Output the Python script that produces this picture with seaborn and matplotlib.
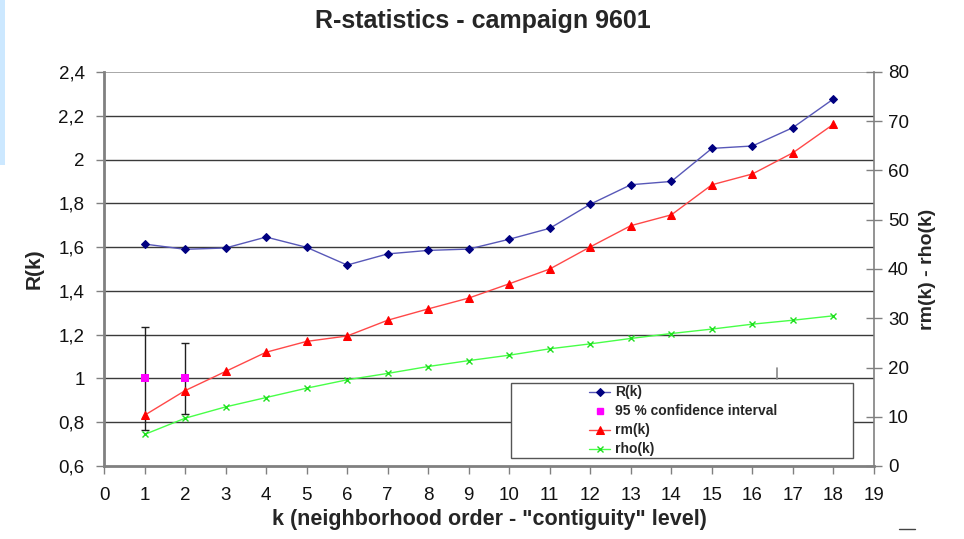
import numpy as np
import pandas as pd
import matplotlib
matplotlib.use("Agg")
import matplotlib.pyplot as plt
import seaborn as sns
from matplotlib.patches import Rectangle
from matplotlib.lines import Line2D
from matplotlib.ticker import FuncFormatter, MultipleLocator

# ---- data ----
k = list(range(1, 19))
R_k = [1.614, 1.590, 1.596, 1.646, 1.599, 1.518, 1.569, 1.585, 1.591,
       1.636, 1.686, 1.796, 1.885, 1.900, 2.051, 2.062, 2.146, 2.277]
rm_k = [10.3, 15.3, 19.2, 23.1, 25.3, 26.4, 29.6, 31.9, 34.1,
        37.0, 40.0, 44.5, 48.8, 51.0, 57.1, 59.3, 63.6, 69.4]
rho_k = [6.4, 9.7, 12.0, 13.9, 15.8, 17.5, 18.8, 20.2, 21.4,
         22.5, 23.8, 24.8, 25.9, 26.9, 27.8, 28.8, 29.6, 30.5]
ci_k = [1, 2]
ci_center = [1.0, 1.0]
ci_low = [0.764, 0.836]
ci_high = [1.234, 1.163]

title = "R-statistics - campaign 9601"
xlabel = 'k (neighborhood order - "contiguity" level)'
ylabel_left = "R(k)"
ylabel_right = "rm(k) - rho(k)"
legend_labels = ["R(k)", "95 % confidence interval", "rm(k)", "rho(k)"]

sns.set_theme(style="white")
plt.rcParams["font.family"] = ["Liberation Sans", "DejaVu Sans"]

W, H = 964, 539
fig = plt.figure(figsize=(W / 100, H / 100), dpi=100)
ax = fig.add_axes([104 / W, 1 - 466 / H, 770 / W, 394 / H])
ax2 = ax.twinx()

df = pd.DataFrame({"k": k, "R": R_k, "rm": rm_k, "rho": rho_k})

# left axis series
sns.lineplot(data=df, x="k", y="R", ax=ax, color="#5858b8", lw=1.0,
             marker="D", markersize=4.5, markerfacecolor="#000080",
             markeredgecolor="#000080", errorbar=None, legend=False)
h_R = ax.get_lines()[-1]

ax.errorbar(ci_k, ci_center,
            yerr=[np.array(ci_center) - np.array(ci_low),
                  np.array(ci_high) - np.array(ci_center)],
            fmt="none", ecolor="#202020", elinewidth=1.0, capsize=2.8, capthick=1.0, zorder=3)
sns.scatterplot(x=ci_k, y=ci_center, ax=ax, marker="s", s=28, color="#ff00ff",
                edgecolor="#ff00ff", linewidth=0, zorder=4, legend=False)
h_ci = Line2D([], [], ls="none", marker="s", markersize=5, color="#ff00ff")

# right axis series
sns.lineplot(data=df, x="k", y="rm", ax=ax2, color="#ff4848", lw=1.0,
             marker="^", markersize=6, markerfacecolor="#ff0000",
             markeredgecolor="#ff0000", errorbar=None, legend=False)
h_rm = ax2.get_lines()[-1]
sns.lineplot(data=df, x="k", y="rho", ax=ax2, color="#48ff48", lw=1.0,
             marker="x", markersize=4, markeredgecolor="#20e020", markeredgewidth=1.0,
             errorbar=None, legend=False)
h_rho = ax2.get_lines()[-1]

# axes limits / ticks
ax.set_xlim(0, 19)
ax.set_ylim(0.6, 2.4)
ax2.set_ylim(0, 80)
ax.xaxis.set_major_locator(MultipleLocator(1))
ax.yaxis.set_major_locator(MultipleLocator(0.2))
ax2.yaxis.set_major_locator(MultipleLocator(10))
ax.yaxis.set_major_formatter(FuncFormatter(lambda v, p: f"{round(v, 1):g}".replace(".", ",")))

tick_font = 13.5
ax.tick_params(axis="y", left=True, direction="out", length=6, width=1, color="#808080",
               labelsize=tick_font, pad=8, labelcolor="#111111")
ax.tick_params(axis="x", bottom=True, direction="out", length=6, width=1, color="#808080",
               labelsize=tick_font, pad=9, labelcolor="#111111")
ax2.tick_params(axis="y", right=True, direction="inout", length=12, width=1, color="#808080",
                labelsize=tick_font, pad=4, labelcolor="#111111")

ax.grid(False)
ax2.grid(False)
ax.set_axisbelow(True)
for v in np.arange(0.8, 2.3, 0.2):
    ax.axhline(v, color="#3a3a3a", lw=1.0, zorder=0.5)
ax.axhline(2.4, color="#999999", lw=1.2, zorder=0.5)

for a in (ax, ax2):
    for s in ("top", "left", "right", "bottom"):
        a.spines[s].set_visible(False)
ax.spines["left"].set_visible(True)
ax.spines["left"].set_color("#808080")
ax.spines["left"].set_linewidth(2)
ax.spines["bottom"].set_visible(True)
ax.spines["bottom"].set_color("#808080")
ax.spines["bottom"].set_linewidth(2)
ax2.spines["right"].set_visible(True)
ax2.spines["right"].set_color("#808080")
ax2.spines["right"].set_linewidth(1.2)

# labels
ax.set_xlabel(xlabel, fontsize=15.5, fontweight="bold", labelpad=4)
ax.set_ylabel(ylabel_left, fontsize=15, fontweight="bold", labelpad=11)
ax2.set_ylabel(ylabel_right, fontsize=14, fontweight="bold", labelpad=7)
fig.text(483 / W, 1 - 21 / H, title, ha="center", va="center", fontsize=18, fontweight="bold")

# legend box
ax2.add_patch(Rectangle((0.5286, 0.0203), 0.4441, 0.1904, transform=ax2.transAxes,
                        facecolor="white", edgecolor="#555555", lw=1.0, zorder=10))
leg = ax2.legend([h_R, h_ci, h_rm, h_rho], legend_labels, loc="center left",
                 bbox_to_anchor=(0.621, 0.1145), frameon=False, borderpad=0,
                 handlelength=1.5, handletextpad=0.35, labelspacing=0.36,
                 prop={"weight": "bold", "size": 10})
leg.set_zorder(11)

# decorations
fig.add_artist(Rectangle((0, 1 - 165 / H), 5 / W, 165 / H, transform=fig.transFigure,
                         facecolor="#cce8ff", edgecolor="none"))
fig.add_artist(Line2D([777 / W, 777 / W], [1 - 368 / H, 1 - 379 / H], transform=fig.transFigure,
                      color="#888888", lw=1.2))
fig.add_artist(Line2D([899 / W, 915 / W], [1 - 529 / H, 1 - 529 / H], transform=fig.transFigure,
                      color="#444444", lw=1.0))

fig.savefig("out.png", dpi=100)
